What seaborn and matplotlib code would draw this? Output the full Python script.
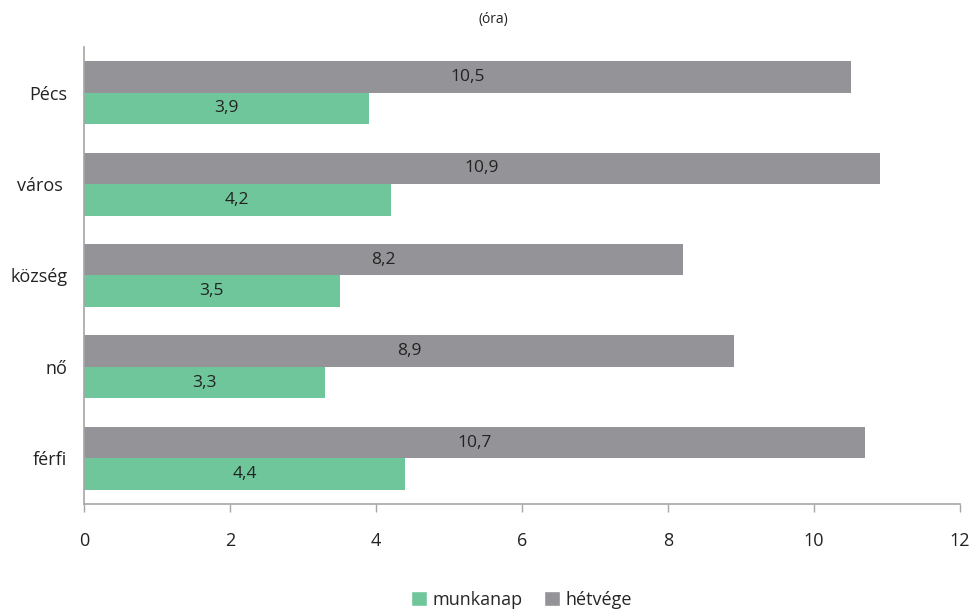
import matplotlib
matplotlib.use("Agg")
import matplotlib.pyplot as plt
import seaborn as sns
import pandas as pd
from matplotlib.patches import Patch

categories = ["Pécs", "város ", "község", "nő", "férfi"]
munkanap = [3.9, 4.2, 3.5, 3.3, 4.4]
hetvege = [10.5, 10.9, 8.2, 8.9, 10.7]
series_names = ["munkanap", "hétvége"]
xticks = [0, 2, 4, 6, 8, 10, 12]

GREEN = "#70C69B"
GRAY = "#949498"

sns.set_theme(style="white")
plt.rcParams["font.family"] = ["Open Sans", "DejaVu Sans"]

df = pd.DataFrame({
    "cat": categories * 2,
    "val": hetvege + munkanap,
    "series": [series_names[1]] * len(categories) + [series_names[0]] * len(categories),
})

fig = plt.figure(figsize=(9.71, 6.11), dpi=100)
ax = fig.add_axes([0.0865, 0.1751, 0.9022, 0.748])

sns.barplot(data=df, y="cat", x="val", hue="series", orient="h",
            hue_order=[series_names[1], series_names[0]],
            palette={series_names[1]: GRAY, series_names[0]: GREEN},
            width=0.69, order=categories, ax=ax, legend=False,
            saturation=1, errorbar=None, linewidth=0)

for cont in ax.containers:
    labels = [f"{b.get_width():.1f}".replace(".", ",") for b in cont]
    ax.bar_label(cont, labels=labels, label_type="center", fontsize=12.5, color="#222222")

ax.set_xlim(0, 12)
ax.set_xticks(xticks)
ax.set_xticklabels([str(t) for t in xticks], fontsize=13, color="#222222")
ax.tick_params(axis="x", which="both", bottom=True, length=6, width=1, color="#a6a6a6", direction="out", pad=14)
ax.tick_params(axis="y", length=0, labelsize=13, labelcolor="#222222", pad=12)
ax.set_xlabel("")
ax.set_ylabel("")
for s in ["top", "right"]:
    ax.spines[s].set_visible(False)
for s in ["left", "bottom"]:
    ax.spines[s].set_color("#a6a6a6")
    ax.spines[s].set_linewidth(1.2)

fig.text(0.508, 0.968, "(óra)", ha="center", va="center", fontsize=10, color="#222222")

handles = [Patch(facecolor=GREEN, label=series_names[0]),
           Patch(facecolor=GRAY, label=series_names[1])]
fig.legend(handles=handles, loc="center", bbox_to_anchor=(0.537, 0.018), ncol=2,
           frameon=False, fontsize=13, handlelength=0.9, handleheight=0.9,
           handletextpad=0.3, columnspacing=1.2)

fig.savefig("out.png", dpi=100)
